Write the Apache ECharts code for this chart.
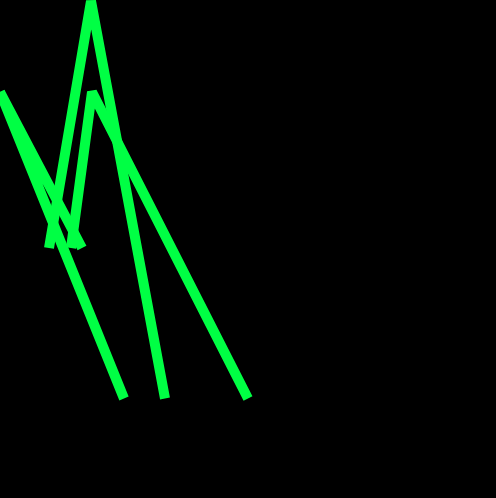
<!DOCTYPE html>
<html>
<head>
<meta charset="utf-8">
<script src="https://cdn.jsdelivr.net/npm/echarts@6/dist/echarts.min.js"></script>
<style>
html,body{margin:0;padding:0;background:#000;}
#chart{width:496px;height:498px;}
</style>
</head>
<body>
<div id="chart"></div>
<script>
// Each stroke: [x, y] points (x rightwards, y downwards)
var strokeA = [[49, 248], [91, 1], [165, 398.5]];
var strokeB = [[71, 248], [92, 92], [248, 398.5]];
var strokeC = [[82, 248], [0, 92], [124, 398.5]];
var strokes = [strokeA, strokeB, strokeC];

var chart = echarts.init(document.getElementById('chart'));
chart.setOption({
  backgroundColor: '#000000',
  animation: false,
  grid: {left: 0, right: 0, top: 0, bottom: 0},
  xAxis: {type: 'value', min: 0, max: 496, show: false},
  yAxis: {type: 'value', min: 0, max: 498, inverse: true, show: false},
  series: strokes.map(function (s) {
    return {
      type: 'line',
      data: s,
      showSymbol: false,
      symbol: 'none',
      clip: false,
      lineStyle: {color: '#00ff44', width: 10, cap: 'butt', join: 'bevel'}
    };
  })
});
</script>
</body>
</html>
